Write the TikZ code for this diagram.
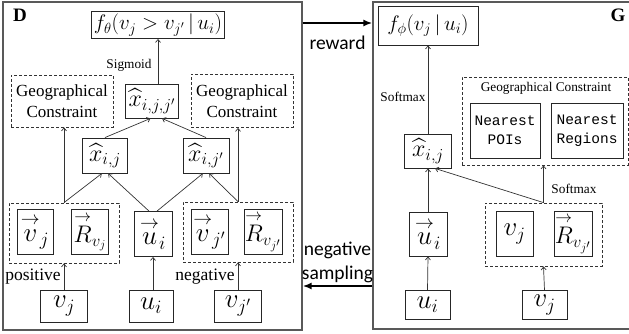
\documentclass[tikz,border=0pt]{standalone}
\usepackage{fix-cm}
\usepackage{amsmath}
\usepackage{fontspec}
\setmainfont{Liberation Serif}
\newfontfamily\sansfont{Carlito}
\newfontfamily\monofont{Liberation Mono}
\usetikzlibrary{arrows.meta,positioning,calc}
\newcommand{\embv}[1]{\overset{\rightarrow}{#1}}
\tikzset{
  panel/.style={draw=black!65,line width=1.3pt},
  mathbox/.style={draw=black!85,line width=0.9pt,inner sep=0pt,align=center,
    font=\fontsize{27}{30}\selectfont},
  hatbox/.style={mathbox,font=\fontsize{24}{27}\selectfont},
  smallmath/.style={mathbox,font=\fontsize{21}{24}\selectfont},
  groupbox/.style={draw=black!80,line width=0.8pt,dash pattern=on 3pt off 2pt,inner sep=0pt},
  geobox/.style={groupbox,align=center,font=\rmfamily\fontsize{17}{21}\selectfont},
  monobox/.style={draw=black!85,line width=0.9pt,inner sep=0pt,align=center,
    font=\monofont\fontsize{14.5}{19}\selectfont},
  flowarrow/.style={-{Straight Barb[length=3pt,width=5pt]},draw=black!80,line width=0.7pt},
  bigarrow/.style={-{Latex[length=9pt,width=7pt]},line width=2pt},
  steplabel/.style={font=\fontsize{13.3}{15}\selectfont,inner sep=0pt},
  sidelabel/.style={font=\fontsize{17.5}{20}\selectfont,inner sep=0pt},
  paneltag/.style={font=\bfseries\fontsize{19}{21}\selectfont,inner sep=0pt},
  between/.style={font=\sansfont\fontsize{19.5}{24}\selectfont,align=center,inner sep=0pt}
}

\begin{document}
\begin{tikzpicture}[x=1pt,y=-1pt]
  \useasboundingbox (0,0) rectangle (629,334);
  % discriminator
  \node[panel,minimum width=299,minimum height=328] (frameD) at (152.5,166) {};
  \node[paneltag] (tagD) at (20,15) {D};
  \node[smallmath,minimum width=133,minimum height=27] (fD) at (158,25)
    {$f_\theta(v_j>v_{j'}\,|\,u_i)$};
  \node[hatbox,minimum width=53,minimum height=34] (xjj) at (152,101) {$\widehat{x}_{i,j,j'}$};
  \node[geobox,minimum width=102,minimum height=52] (geoL) at (62,101) {Geographical\\Constraint};
  \node[geobox,minimum width=102,minimum height=53] (geoR) at (242,101) {Geographical\\Constraint};
  \node[hatbox,minimum width=45,minimum height=35] (xj) at (105,155.5) {$\widehat{x}_{i,j}$};
  \node[hatbox,minimum width=46,minimum height=35] (xjp) at (206,155.5) {$\widehat{x}_{i,j'}$};
  \node[groupbox,minimum width=110,minimum height=60] (grpL) at (64,233) {};
  \node[mathbox,minimum width=36,minimum height=45] (vjvec) at (35,232) {$\embv{v}_j$};
  \node[mathbox,minimum width=37,minimum height=45,font=\fontsize{24}{27}\selectfont] (Rvj) at (90,232)
    {$\embv{R}_{v_j}$};
  \node[mathbox,minimum width=38,minimum height=45] (uvec) at (153,234) {$\embv{u}_i$};
  \node[groupbox,minimum width=110,minimum height=60] (grpR) at (238,232) {};
  \node[mathbox,minimum width=37,minimum height=45] (vjpvec) at (209.5,232) {$\embv{v}_{j'}$};
  \node[mathbox,minimum width=38,minimum height=45,font=\fontsize{24}{27}\selectfont] (Rvjp) at (263,232)
    {$\embv{R}_{v_{j'}}$};
  \node[mathbox,minimum width=47,minimum height=32] (vjD) at (64,306) {$v_j$};
  \node[mathbox,minimum width=44,minimum height=32] (uiD) at (151,306) {$u_i$};
  \node[mathbox,minimum width=47,minimum height=32] (vjpD) at (238,306) {$v_{j'}$};
  \node[steplabel] (sigmoid) at (129,65) {Sigmoid};
  \node[sidelabel] (positive) at (33,277) {positive};
  \node[sidelabel] (negative) at (205,277) {negative};

  \draw[flowarrow] (fD.south |- xjj.north) -- (fD.south);
  \draw[flowarrow] (xj.north) -- (xjj.-95);
  \draw[flowarrow] (xjp.north) -- (xjj.-60);
  \draw[flowarrow] (grpL.north) -- (grpL.north |- geoL.south);
  \draw[flowarrow] (grpR.north) -- (grpR.north |- geoR.south);
  \draw[flowarrow] (grpL.north) -- (xj.-100);
  \draw[flowarrow] (uvec.100) -- (xj.-80);
  \draw[flowarrow] (uvec.80) -- (xjp.-100);
  \draw[flowarrow] (grpR.north) -- (xjp.-80);
  \draw[flowarrow] (vjD.north) -- (grpL.south);
  \draw[flowarrow] (uvec.south |- uiD.north) -- (uvec.south);
  \draw[flowarrow] (vjpD.north) -- (grpR.south);

  % generator
  \node[panel,minimum width=268,minimum height=327] (frameG) at (507,165.5) {};
  \node[paneltag] (tagG) at (618,15) {G};
  \node[smallmath,minimum width=100,minimum height=39] (fG) at (428,25.5) {$f_\phi(v_j\,|\,u_i)$};
  \node[hatbox,minimum width=47,minimum height=34] (xG) at (428,151) {$\widehat{x}_{i,j}$};
  \node[groupbox,minimum width=166,minimum height=88] (geoG) at (545,121) {};
  \node[steplabel] (geoGtitle) at (546,88) {Geographical Constraint};
  \node[monobox,minimum width=70,minimum height=55] (pois) at (505,130.5) {Nearest\\POIs};
  \node[monobox,minimum width=72,minimum height=55] (regions) at (587,130.5) {Nearest\\Regions};
  \node[mathbox,minimum width=38,minimum height=44] (uvecG) at (428,234) {$\embv{u}_i$};
  \node[groupbox,minimum width=117,minimum height=63] (grpG) at (543.5,234.5) {};
  \node[mathbox,minimum width=37,minimum height=45] (vjG) at (514.5,234) {$v_j$};
  \node[mathbox,minimum width=38,minimum height=45,font=\fontsize{24}{27}\selectfont] (RG) at (573,234)
    {$\embv{R}_{v_{j'}}$};
  \node[mathbox,minimum width=45,minimum height=29] (uiG) at (427.5,305) {$u_i$};
  \node[mathbox,minimum width=45,minimum height=29] (vjGB) at (544.5,305) {$v_j$};
  \node[steplabel] (softmaxA) at (403,97) {Softmax};
  \node[steplabel] (softmaxB) at (574,189) {Softmax};

  \draw[flowarrow] (xG.north) -- (fG.south);
  \draw[flowarrow] (uvecG.north) -- (xG.south);
  \draw[flowarrow] (grpG.north) -- (xG.-68);
  \draw[flowarrow] (grpG.north) -- (grpG.north |- geoG.south);
  \draw[flowarrow] (uiG.north) -- (uvecG.south);
  \draw[flowarrow] (vjGB.north) -- (grpG.south);

  % between the two
  \coordinate (sampling) at (0,286);
  \draw[bigarrow] (frameD.east |- 0,23) -- (frameG.west |- 0,23);
  \draw[bigarrow] (frameG.west |- sampling) -- (frameD.east |- sampling);
  \node[between] (reward) at (337.5,43) {reward};
  \node[between] (negsampling) at (337.5,262) {negative\\sampling};
\end{tikzpicture}
\end{document}
